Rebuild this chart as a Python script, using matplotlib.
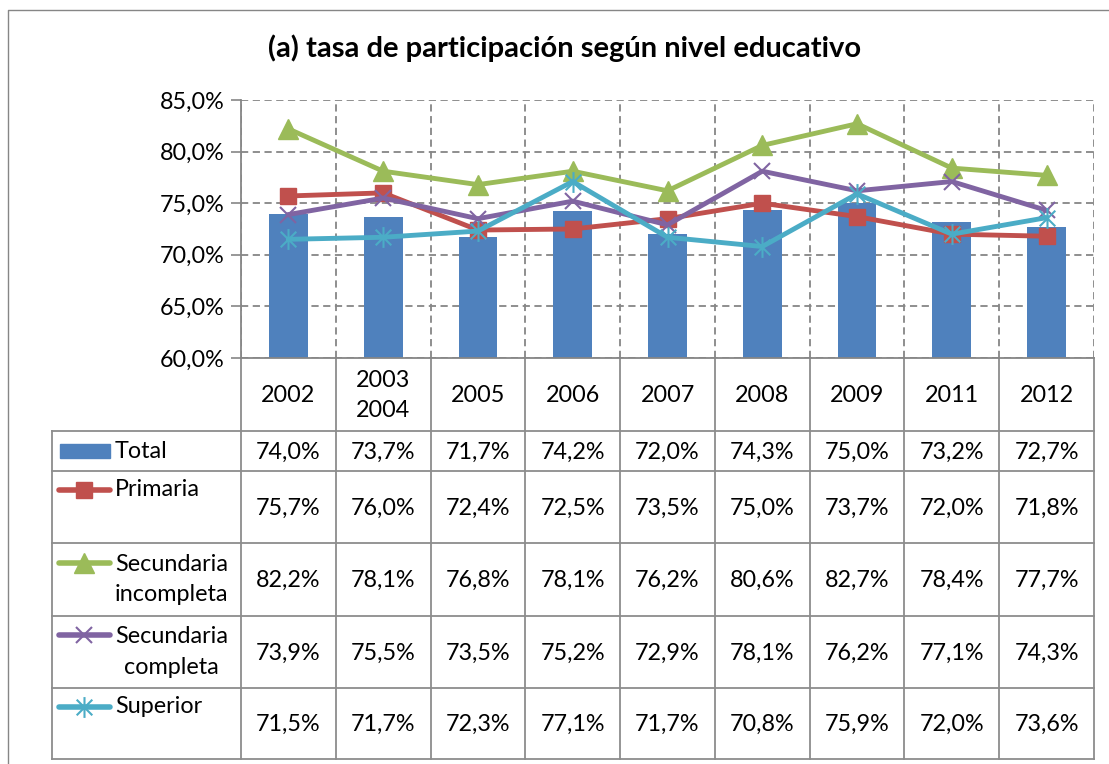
import numpy as np
import matplotlib
import matplotlib.pyplot as plt
from matplotlib.path import Path

matplotlib.use("Agg")
plt.rcParams["font.family"] = ["Lato", "DejaVu Sans"]

years = ["2002", "2003\n2004", "2005", "2006", "2007", "2008", "2009", "2011", "2012"]
total = [74.0, 73.7, 71.7, 74.2, 72.0, 74.3, 75.0, 73.2, 72.7]
primaria = [75.7, 76.0, 72.4, 72.5, 73.5, 75.0, 73.7, 72.0, 71.8]
sec_incompleta = [82.2, 78.1, 76.8, 78.1, 76.2, 80.6, 82.7, 78.4, 77.7]
sec_completa = [73.9, 75.5, 73.5, 75.2, 72.9, 78.1, 76.2, 77.1, 74.3]
superior = [71.5, 71.7, 72.3, 77.1, 71.7, 70.8, 75.9, 72.0, 73.6]

BLUE = "#4F81BD"
GRID = "#868686"
LINE = "#8C8C8C"
FS = 16.8

# asterisk marker like excel's "star": vertical bar + two diagonals
star = Path(
    [(0, -1), (0, 1), (-0.75, -0.75), (0.75, 0.75), (-0.75, 0.75), (0.75, -0.75)],
    [Path.MOVETO, Path.LINETO, Path.MOVETO, Path.LINETO, Path.MOVETO, Path.LINETO],
)

series = [
    ("Primaria", primaria, "#C0504D", dict(marker="s", markersize=12)),
    ("Secundaria\nincompleta", sec_incompleta, "#9BBB59", dict(marker="^", markersize=14)),
    ("Secundaria\ncompleta", sec_completa, "#8064A2", dict(marker="x", markersize=12, markeredgewidth=1.5)),
    ("Superior", superior, "#4BACC6", dict(marker=star, markersize=15, markeredgewidth=1.5)),
]

W, H = 1109, 764
fig = plt.figure(figsize=(W / 100, H / 100), dpi=100)

# layout in pixels
px_left, px_right, px_top, px_bottom = 241, 1094, 100, 358
ax = fig.add_axes([px_left / W, 1 - px_bottom / H, (px_right - px_left) / W, (px_bottom - px_top) / H])

x = np.arange(len(years))
ax.bar(x, total, width=0.41, color=BLUE, zorder=2)
for name, vals, color, mk in series:
    ax.plot(x, vals, color=color, lw=3.5, markerfacecolor=color, markeredgecolor=color, zorder=3,
            solid_joinstyle="round", **mk)

ax.set_xlim(-0.5, len(years) - 0.5)
ax.set_ylim(60, 85)
ax.set_yticks(np.arange(60, 86, 5))
ax.set_yticklabels([f"{v:.1f}%".replace(".", ",") for v in np.arange(60, 86, 5)], fontsize=FS)
ax.set_xticks(np.arange(len(years) + 1) - 0.5, minor=False)
ax.set_xticklabels([])
ax.tick_params(axis="y", length=7, width=1.2, color=GRID, pad=5)
ax.tick_params(axis="x", length=0)
ax.grid(True, color=GRID, linestyle=(0, (4, 2.5)), lw=1.3, zorder=0)
for side in ["top", "right"]:
    ax.spines[side].set_visible(False)
for side in ["left", "bottom"]:
    ax.spines[side].set_color(GRID)
    ax.spines[side].set_linewidth(1.3)

fig.text(565 / W, 1 - 48 / H, "(a) tasa de participación según nivel educativo",
         ha="center", va="center", fontsize=21, fontweight="bold")

# table drawn on an overlay in pixel units
tb = fig.add_axes([0, 0, 1, 1], zorder=-1)
tb.set_xlim(0, W)
tb.set_ylim(H, 0)
tb.axis("off")

# outer chart frame
tb.plot([8, 8, W], [H, 10, 10], color=GRID, lw=1)

col_w = (px_right - px_left) / len(years)
col_edges = px_left + col_w * np.arange(len(years) + 1)
row_edges = [px_bottom, 431, 471, 543, 616, 688, 759]
legend_left = 52

for ye in row_edges[1:]:
    tb.plot([legend_left, px_right], [ye, ye], color=LINE, lw=1.3)
tb.plot([legend_left, legend_left], [row_edges[1], row_edges[-1]], color=LINE, lw=1.3)
for xe in col_edges:
    tb.plot([xe, xe], [px_bottom, row_edges[-1]], color=LINE, lw=1.3)

# header row
for i, yr in enumerate(years):
    tb.text(col_edges[i] + col_w / 2, (row_edges[0] + row_edges[1]) / 2 + 1, yr,
            ha="center", va="center", fontsize=FS, linespacing=1.5)

fmt = lambda v: f"{v:.1f}%".replace(".", ",")
rows = [("Total", total, BLUE, None)] + series
for r, (name, vals, color, mk) in enumerate(rows):
    y0, y1 = row_edges[r + 1], row_edges[r + 2]
    yc = (y0 + y1) / 2
    for i, v in enumerate(vals):
        tb.text(col_edges[i] + col_w / 2, yc + 1, fmt(v), ha="center", va="center", fontsize=FS)
    if r == 0 or "\n" in name:
        ly = yc
    else:
        ly = yc - 17
    key_y = yc - 17 if r > 0 else yc
    # legend key
    if mk is None:
        tb.add_patch(plt.Rectangle((60, key_y - 7), 50, 14, color=color))
    else:
        tb.plot([59, 84, 110], [key_y, key_y, key_y], color=color, lw=4, solid_capstyle="round",
                markerfacecolor=color, markeredgecolor=color, markevery=[1], **mk)
    tb.text(115, ly, name, ha="left", va="center", fontsize=FS,
            multialignment="center", linespacing=1.55)

fig.savefig("out.png", dpi=100)
